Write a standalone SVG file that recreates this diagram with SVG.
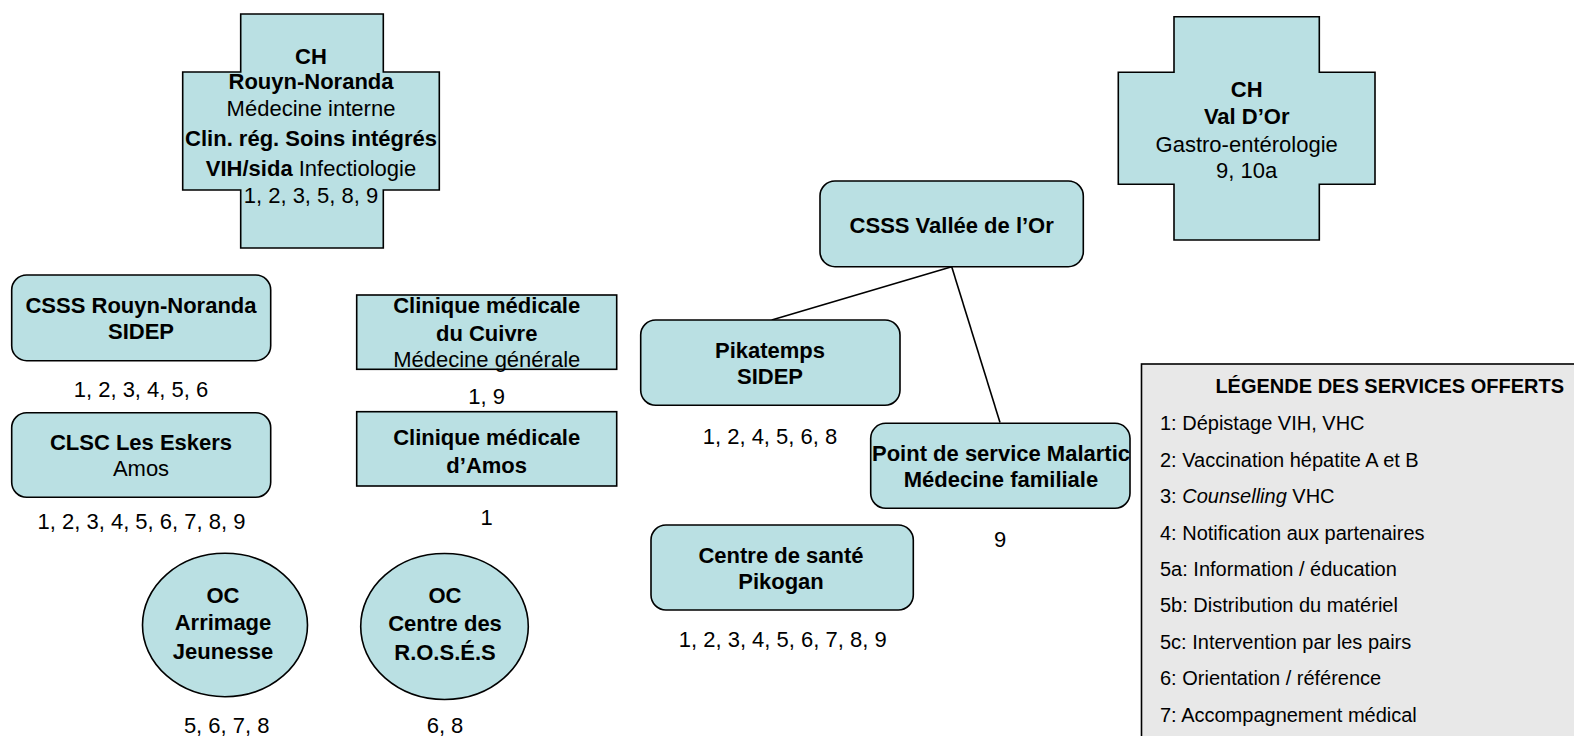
<svg xmlns="http://www.w3.org/2000/svg" width="1574" height="736" viewBox="0 0 1574 736">
<style>
.n{fill:#bae0e3;stroke:#000;stroke-width:1.6}
.t{font-family:"Liberation Sans",Arial,sans-serif;font-size:22px;fill:#000;text-anchor:middle}
.b{font-weight:bold}
.lg{fill:#e8e8e8;stroke:#000;stroke-width:1.6}
.l{font-family:"Liberation Sans",Arial,sans-serif;font-size:20px;fill:#000}
.c{stroke:#000;stroke-width:1.6;fill:none}
</style>
<rect width="1574" height="736" fill="#fff"/>
<g id="connectors">
<line class="c" x1="951.7" y1="266.7" x2="771.7" y2="320"/>
<line class="c" x1="951.7" y1="266.7" x2="1000" y2="422.5"/>
</g>
<g id="ch-rouyn">
<path class="n" d="M240.7 14H383.3V72H439.3V190H383.3V248H240.7V190H182.7V72H240.7Z"/>
<text class="t b" x="311" y="64">CH</text>
<text class="t b" x="311" y="89">Rouyn-Noranda</text>
<text class="t" x="311" y="116">Médecine interne</text>
<text class="t b" x="311" y="146">Clin. rég. Soins intégrés</text>
<text class="t" x="311" y="176"><tspan class="b">VIH/sida</tspan> Infectiologie</text>
<text class="t" x="311" y="203">1, 2, 3, 5, 8, 9</text>
</g>
<g id="csss-rouyn">
<rect class="n" x="11.7" y="275" width="259" height="85.7" rx="15"/>
<text class="t b" x="141" y="313">CSSS Rouyn-Noranda</text>
<text class="t b" x="141" y="339">SIDEP</text>
<text class="t" x="141" y="397">1, 2, 3, 4, 5, 6</text>
</g>
<g id="clsc-eskers">
<rect class="n" x="11.7" y="412.7" width="259" height="84.6" rx="15"/>
<text class="t b" x="141" y="450">CLSC Les Eskers</text>
<text class="t" x="141" y="476">Amos</text>
<text class="t" x="141.5" y="529">1, 2, 3, 4, 5, 6, 7, 8, 9</text>
</g>
<g id="clinique-cuivre">
<rect class="n" x="356.7" y="295" width="260" height="74.3"/>
<text class="t b" x="486.7" y="313">Clinique médicale</text>
<text class="t b" x="486.7" y="341">du Cuivre</text>
<text class="t" x="486.7" y="367">Médecine générale</text>
<text class="t" x="486.7" y="404">1, 9</text>
</g>
<g id="clinique-amos">
<rect class="n" x="356.7" y="411.7" width="260" height="74.3"/>
<text class="t b" x="486.7" y="445">Clinique médicale</text>
<text class="t b" x="486.7" y="472.5">d’Amos</text>
<text class="t" x="486.7" y="525">1</text>
</g>
<g id="oc-arrimage">
<ellipse class="n" cx="225" cy="625" rx="82.5" ry="71.7"/>
<text class="t b" x="223" y="603">OC</text>
<text class="t b" x="223" y="630">Arrimage</text>
<text class="t b" x="223" y="659">Jeunesse</text>
<text class="t" x="226.7" y="733">5, 6, 7, 8</text>
</g>
<g id="oc-roses">
<ellipse class="n" cx="444.5" cy="626.5" rx="83.8" ry="73"/>
<text class="t b" x="445" y="603">OC</text>
<text class="t b" x="445" y="631">Centre des</text>
<text class="t b" x="445" y="660">R.O.S.É.S</text>
<text class="t" x="445" y="733">6, 8</text>
</g>
<g id="csss-vallee">
<rect class="n" x="820" y="181" width="263.3" height="85.7" rx="15"/>
<text class="t b" x="951.7" y="232.5">CSSS Vallée de l’Or</text>
</g>
<g id="pikatemps">
<rect class="n" x="640.7" y="320" width="259.3" height="85.3" rx="15"/>
<text class="t b" x="770" y="357.5">Pikatemps</text>
<text class="t b" x="770" y="384">SIDEP</text>
<text class="t" x="770" y="444">1, 2, 4, 5, 6, 8</text>
</g>
<g id="malartic">
<rect class="n" x="870.7" y="423.3" width="259.3" height="85" rx="15"/>
<text class="t b" x="1001" y="461">Point de service Malartic</text>
<text class="t b" x="1001" y="487">Médecine familiale</text>
<text class="t" x="1000" y="546.5">9</text>
</g>
<g id="pikogan">
<rect class="n" x="651" y="525" width="262.3" height="85" rx="15"/>
<text class="t b" x="781" y="563">Centre de santé</text>
<text class="t b" x="781" y="589">Pikogan</text>
<text class="t" x="782.7" y="646.5">1, 2, 3, 4, 5, 6, 7, 8, 9</text>
</g>
<g id="ch-valdor">
<path class="n" d="M1174 16.7H1319.3V72.3H1375V184.3H1319.3V240H1174V184.3H1118.3V72.3H1174Z"/>
<text class="t b" x="1246.7" y="96.5">CH</text>
<text class="t b" x="1246.7" y="124">Val D’Or</text>
<text class="t" x="1246.7" y="151.5">Gastro-entérologie</text>
<text class="t" x="1246.7" y="178">9, 10a</text>
</g>
<g id="legende">
<rect class="lg" x="1141.5" y="364" width="500" height="400"/>
<text class="l b" x="1389.7" y="393.3" text-anchor="middle">LÉGENDE DES SERVICES OFFERTS</text>
<text class="l" x="1160" y="430">1: Dépistage VIH, VHC</text>
<text class="l" x="1160" y="466.5">2: Vaccination hépatite A et B</text>
<text class="l" x="1160" y="503">3: <tspan font-style="italic">Counselling</tspan> VHC</text>
<text class="l" x="1160" y="539.5">4: Notification aux partenaires</text>
<text class="l" x="1160" y="576">5a: Information / éducation</text>
<text class="l" x="1160" y="612">5b: Distribution du matériel</text>
<text class="l" x="1160" y="648.5">5c: Intervention par les pairs</text>
<text class="l" x="1160" y="685">6: Orientation / référence</text>
<text class="l" x="1160" y="721.5">7: Accompagnement médical</text>
</g>
</svg>
